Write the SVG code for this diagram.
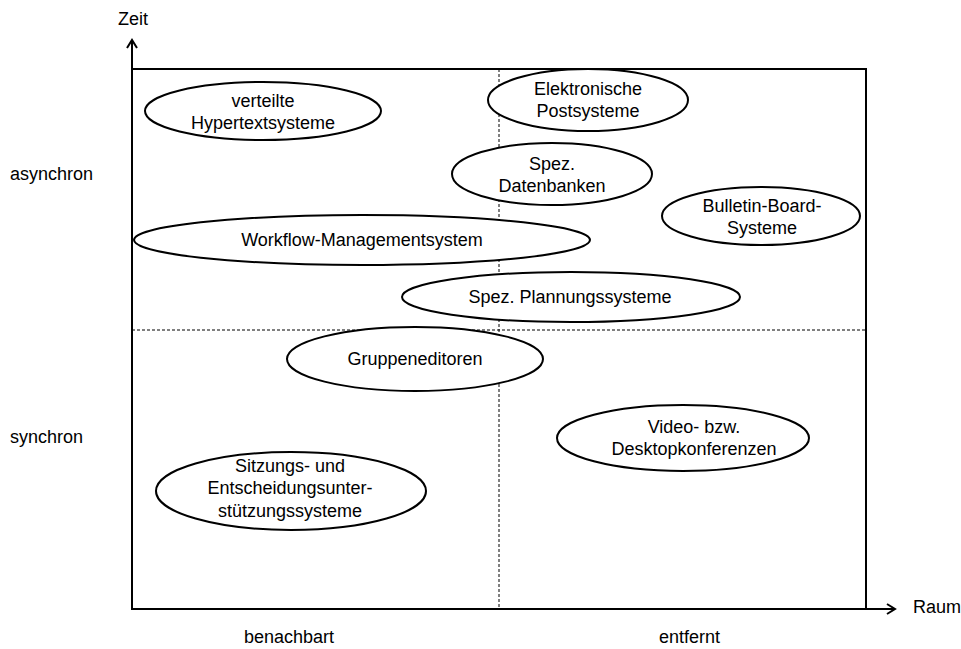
<svg xmlns="http://www.w3.org/2000/svg" width="961" height="649" viewBox="0 0 961 649">
  <style>
    text { font-family: "Liberation Sans", Arial, sans-serif; font-size: 18px; fill: #000; }
    .lbl { text-anchor: middle; }
    .node ellipse { fill: #fff; stroke: #000; stroke-width: 2; }
    .frame { fill: none; stroke: #000; stroke-width: 2; }
    .axis { fill: none; stroke: #000; stroke-width: 2; }
    .div { fill: none; stroke: #000; stroke-width: 1; stroke-dasharray: 3 2; }
  </style>
  <defs>
    <marker id="arrow" viewBox="0 0 12 12" refX="10" refY="6" markerWidth="12" markerHeight="12" markerUnits="userSpaceOnUse" orient="auto">
      <path d="M2,1 L10,6 L2,11" fill="none" stroke="#000" stroke-width="2"/>
    </marker>
  </defs>
  <rect width="961" height="649" fill="#fff"/>

  <!-- quadrant dividers -->
  <g id="dividers">
    <line class="div" x1="499" y1="69" x2="499" y2="609"/>
    <line class="div" x1="132" y1="330" x2="866" y2="330"/>
  </g>

  <!-- frame and axes -->
  <g id="connectors">
    <rect class="frame" x="132" y="69" width="734" height="540"/>
    <line class="axis" x1="132" y1="609" x2="132" y2="40" marker-end="url(#arrow)"/>
    <line class="axis" x1="132" y1="609" x2="895" y2="609" marker-end="url(#arrow)"/>
  </g>

  <!-- axis labels -->
  <g id="axis-labels">
    <text x="118" y="25">Zeit</text>
    <text x="913" y="613">Raum</text>
    <text x="10" y="180">asynchron</text>
    <text x="10" y="443">synchron</text>
    <text x="244" y="643">benachbart</text>
    <text x="659" y="643">entfernt</text>
  </g>

  <g id="hypertext" class="node">
    <ellipse cx="263" cy="111" rx="118" ry="29"/>
    <text class="lbl" x="263" y="107">verteilte</text>
    <text class="lbl" x="263" y="129">Hypertextsysteme</text>
  </g>

  <g id="post" class="node">
    <ellipse cx="588" cy="100" rx="100" ry="31"/>
    <text class="lbl" x="588" y="95">Elektronische</text>
    <text class="lbl" x="588" y="117">Postsysteme</text>
  </g>

  <g id="datenbanken" class="node">
    <ellipse cx="552" cy="174" rx="100" ry="31"/>
    <text class="lbl" x="552" y="170">Spez.</text>
    <text class="lbl" x="552" y="192">Datenbanken</text>
  </g>

  <g id="bulletin" class="node">
    <ellipse cx="761" cy="216" rx="99" ry="29"/>
    <text class="lbl" x="762" y="212">Bulletin-Board-</text>
    <text class="lbl" x="762" y="234">Systeme</text>
  </g>

  <g id="workflow" class="node">
    <ellipse cx="362" cy="240" rx="228" ry="25"/>
    <text class="lbl" x="362" y="246">Workflow-Managementsystem</text>
  </g>

  <g id="planung" class="node">
    <ellipse cx="571" cy="297" rx="169" ry="25"/>
    <text class="lbl" x="570" y="303">Spez. Plannungssysteme</text>
  </g>

  <g id="gruppeneditoren" class="node">
    <ellipse cx="415" cy="359" rx="128" ry="32"/>
    <text class="lbl" x="415" y="365">Gruppeneditoren</text>
  </g>

  <g id="video" class="node">
    <ellipse cx="683" cy="438" rx="126" ry="33"/>
    <text class="lbl" x="694" y="433">Video- bzw.</text>
    <text class="lbl" x="694" y="455">Desktopkonferenzen</text>
  </g>

  <g id="sitzung" class="node">
    <ellipse cx="291" cy="491" rx="135" ry="39"/>
    <text class="lbl" x="290" y="472">Sitzungs- und</text>
    <text class="lbl" x="290" y="494">Entscheidungsunter-</text>
    <text class="lbl" x="290" y="517">stützungssysteme</text>
  </g>
</svg>
